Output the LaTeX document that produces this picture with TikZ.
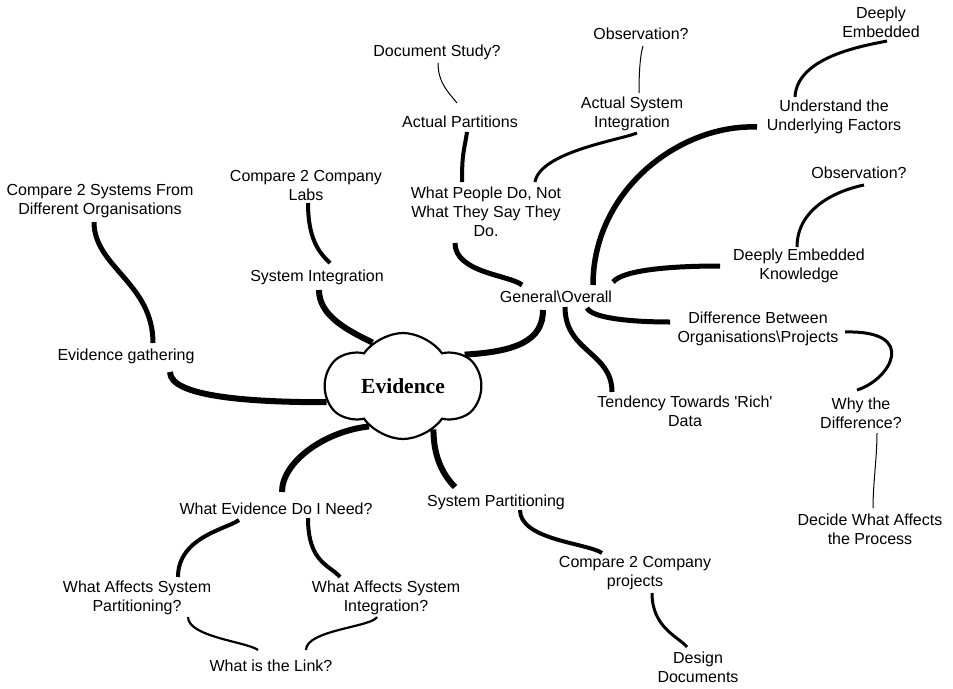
\documentclass[tikz,border=0pt]{standalone}
\usepackage{fontspec}
\setmainfont{Liberation Sans}
\newfontfamily\cloudfont{Liberation Serif}
\usepackage{tikz}
\usetikzlibrary{shapes.symbols}

\tikzset{
  topic/.style={align=center, inner sep=0pt, font={\fontsize{16}{19}\selectfont}},
  trunk/.style={line width=6pt},
  bough/.style={line width=5pt},
  branch/.style={line width=4pt},
  twig/.style={line width=3pt},
  shoot/.style={line width=2.2pt},
  hair/.style={line width=1pt}
}

\begin{document}
\begin{tikzpicture}[x=1pt, y=1pt]
    \useasboundingbox (0,0) rectangle (953,-688);

    % the central cloud
    \node[cloud, draw, line width=2.2pt, cloud puffs=6, cloud puff arc=110,
          aspect=1.45, minimum width=155pt, minimum height=106pt, inner sep=0pt,
          font={\cloudfont\bfseries\fontsize{21.5}{24}\selectfont}] (ev) at (403,-386) {Evidence};

    % topics
    \node[topic] (egather)    at (126,-356) {Evidence gathering};
    \node[topic] (cmpsys)     at (100,-201) {Compare 2 Systems From\\Different Organisations};
    \node[topic] (sysint)     at (317,-277) {System Integration};
    \node[topic] (cmplabs)    at (306,-185) {Compare 2 Company\\Labs};
    \node[topic] (general)    at (556,-297) {General\textbackslash Overall};
    \node[topic] (people)     at (486,-212) {What People Do, Not\\What They Say They\\Do.};
    \node[topic] (partitions) at (460,-122) {Actual Partitions};
    \node[topic] (docstudy)   at (437,-52)  {Document Study?};
    \node[topic] (asysint)    at (632,-114) {Actual System\\Integration};
    \node[topic] (obsa)       at (641,-34)  {Observation?};
    \node[topic] (underst)    at (834,-117) {Understand the\\Underlying Factors};
    \node[topic] (deeply)     at (881,-22)  {Deeply\\Embedded};
    \node[topic] (dek)        at (799,-266) {Deeply Embedded\\Knowledge};
    \node[topic] (obsb)       at (859,-173) {Observation?};
    \node[topic] (diff)       at (758,-329) {Difference Between\\Organisations\textbackslash Projects};
    \node[topic] (why)        at (861,-413) {Why the\\Difference?};
    \node[topic] (decide)     at (870,-529) {Decide What Affects\\the Process};
    \node[topic] (rich)       at (685,-411) {Tendency Towards \textquotesingle Rich\textquotesingle\\Data};
    \node[topic] (syspart)    at (496,-502) {System Partitioning};
    \node[topic] (cmpproj)    at (635,-573) {Compare 2 Company\\projects};
    \node[topic] (design)     at (698,-667) {Design\\Documents};
    \node[topic] (need)       at (276,-509) {What Evidence Do I Need?};
    \node[topic] (waspart)    at (137,-598) {What Affects System\\Partitioning?};
    \node[topic] (wasint)     at (386,-598) {What Affects System\\Integration?};
    \node[topic] (link)       at (271,-666) {What is the Link?};

    % links out of the cloud
    \draw[trunk] (ev.192) .. controls +(-75,0) and +(0,-25) .. ([xshift=44pt,yshift=-16pt]egather.center);
    \draw[trunk] (ev.125) .. controls +(-27,13) and +(0,-25) .. ([xshift=2pt,yshift=-13pt]sysint.center);
    \draw[trunk] (ev.27) .. controls +(53,3) and +(0,-30) .. ([xshift=-13pt,yshift=-13pt]general.center);
    \draw[trunk] (ev.230) .. controls +(-45,-5) and +(0,30) .. ([xshift=6pt,yshift=17pt]need.center);
    \draw[trunk] (ev.305) .. controls +(0,-30) and +(-10,10) .. ([xshift=-41pt,yshift=15pt]syspart.center);

    % left side
    \draw[bough] ([xshift=-6pt,yshift=-21pt]cmpsys.center) .. controls +(0,-45) and +(0,60) .. ([xshift=27pt,yshift=13pt]egather.center);
    \draw[branch] ([xshift=2pt,yshift=-18pt]cmplabs.center) .. controls +(0,-40) and +(-8,8) .. ([xshift=13pt,yshift=14pt]sysint.center);

    % general\overall
    \draw[bough] ([xshift=-34pt,yshift=12pt]general.center) .. controls +(-12,10) and +(0,-30) .. ([xshift=-31pt,yshift=-31pt]people.center);
    \draw[branch] ([xshift=-24pt,yshift=30pt]people.center) .. controls +(0,30) and +(-3,-20) .. ([xshift=7pt,yshift=-10pt]partitions.center);
    \draw[hair] ([xshift=-3pt,yshift=19pt]partitions.center) .. controls +(-8,10) and +(0,-20) .. ([xshift=1pt,yshift=-11pt]docstudy.center);
    \draw[twig] ([xshift=49pt,yshift=30pt]people.center) .. controls +(5,30) and +(-17,-7) .. ([xshift=5pt,yshift=-19pt]asysint.center);
    \draw[hair] ([xshift=7pt,yshift=21pt]asysint.center) .. controls +(0,20) and +(-3,-10) .. ([xshift=2pt,yshift=-12pt]obsa.center);
    \draw[line width=5.5pt] ([xshift=37pt,yshift=12pt]general.center) .. controls +(0,95) and +(-77,3) .. ([xshift=-77pt,yshift=-10pt]underst.center);
    \draw[twig] ([xshift=-39pt,yshift=20pt]underst.center) .. controls +(2,40) and +(-25,-5) .. ([xshift=6pt,yshift=-19pt]deeply.center);
    \draw[bough] ([xshift=57pt,yshift=15pt]general.center) .. controls +(10,12) and +(-50,0) .. ([xshift=-79pt]dek.center);
    \draw[twig] ([xshift=-2pt,yshift=19pt]dek.center) .. controls +(0,40) and +(-25,-5) .. ([xshift=5pt,yshift=-12pt]obsb.center);
    \draw[bough] ([xshift=31pt,yshift=-11pt]general.center) .. controls +(5,-10) and +(-40,0) .. ([xshift=-88pt,yshift=7pt]diff.center);
    \draw[twig] ([xshift=87pt,yshift=-3pt]diff.center) .. controls +(75,2) and +(33,10) .. ([xshift=-4pt,yshift=23pt]why.center);
    \draw[hair] ([xshift=16pt,yshift=-20pt]why.center) .. controls +(0,-25) and +(0,25) .. ([xshift=3pt,yshift=21pt]decide.center);
    \draw[bough] ([xshift=9pt,yshift=-10pt]general.center) .. controls +(0,-45) and +(0,40) .. ([xshift=-73pt,yshift=19pt]rich.center);

    % lower part
    \draw[branch] ([xshift=-37pt,yshift=-11pt]need.center) .. controls +(-12,-9) and +(0,40) .. ([xshift=41pt,yshift=21pt]waspart.center);
    \draw[branch] ([xshift=32pt,yshift=-9pt]need.center) .. controls +(0,-45) and +(-10,12) .. ([xshift=-46pt,yshift=21pt]wasint.center);
    \draw[shoot] ([xshift=51pt,yshift=-19pt]waspart.center) .. controls +(0,-20) and +(-10,8) .. ([xshift=-13pt,yshift=16pt]link.center);
    \draw[shoot] ([xshift=-9pt,yshift=-19pt]wasint.center) .. controls +(-5,-10) and +(0,20) .. ([xshift=35pt,yshift=16pt]link.center);
    \draw[branch] ([xshift=24pt,yshift=-8pt]syspart.center) .. controls +(0,-30) and +(-15,10) .. ([xshift=-33pt,yshift=20pt]cmpproj.center);
    \draw[twig] ([xshift=17pt,yshift=-20pt]cmpproj.center) .. controls +(0,-35) and +(-8,10) .. ([xshift=-11pt,yshift=20pt]design.center);
\end{tikzpicture}
\end{document}
